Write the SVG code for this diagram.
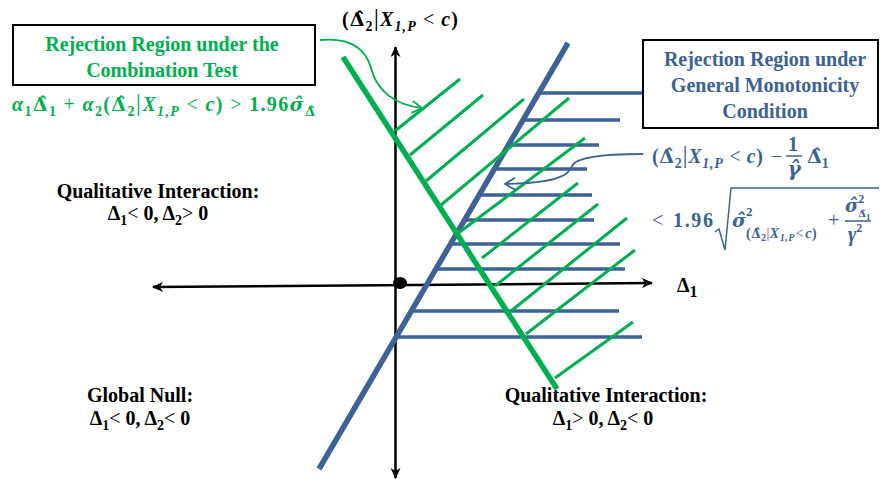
<svg xmlns="http://www.w3.org/2000/svg" width="880" height="479" viewBox="0 0 880 479">
<style>
.t{font-family:"Liberation Serif","Times New Roman",serif;font-weight:bold;font-size:20px}
.d{font-family:"DejaVu Serif",serif}
.k{fill:#000}
.g{fill:#00b050}
.b{fill:#3c6296}
.i{font-style:italic}
.n{font-weight:normal}
.ax{stroke:#000;stroke-width:2.5;fill:none}
.gth{stroke:#00b050;stroke-width:5.5}
.bth{stroke:#3c6296;stroke-width:5.5}
.gh{stroke:#00b050;stroke-width:3}
.bh{stroke:#3c6296;stroke-width:3.5}
.box{fill:#fff;stroke:#000;stroke-width:2}
.ml{stroke:#3c6296;stroke-width:1.5;fill:none}
</style>
<defs>
<marker id="axArrow" markerWidth="12" markerHeight="10" refX="10" refY="5" orient="auto-start-reverse" markerUnits="userSpaceOnUse">
<path d="M0,0 L11,5 L0,10 L3,5 z" fill="#000"/>
</marker>
<marker id="gArrow" markerWidth="14" markerHeight="14" refX="11" refY="7" orient="auto" markerUnits="userSpaceOnUse">
<path d="M1,1 L11,7 L1,13" fill="none" stroke="#00b050" stroke-width="1.8"/>
</marker>
<marker id="bArrow" markerWidth="14" markerHeight="14" refX="11" refY="7" orient="auto" markerUnits="userSpaceOnUse">
<path d="M1,1 L11,7 L1,13" fill="none" stroke="#3c6296" stroke-width="1.8"/>
</marker>
</defs>
<rect width="880" height="479" fill="#fff"/>

<g id="axes">
<line class="ax" x1="153" y1="287" x2="652" y2="283" marker-start="url(#axArrow)" marker-end="url(#axArrow)"/>
<line class="ax" x1="395.5" y1="478" x2="395.5" y2="47" marker-start="url(#axArrow)" marker-end="url(#axArrow)"/>
<ellipse cx="400" cy="283" rx="7" ry="6" fill="#000"/>
</g>

<g id="monotonicity-region">
<line class="bh" x1="539" y1="93" x2="643" y2="93"/>
<line class="bh" x1="523" y1="120" x2="620" y2="120"/>
<line class="bh" x1="508" y1="145" x2="599" y2="145"/>
<line class="bh" x1="494" y1="169" x2="587" y2="169"/>
<line class="bh" x1="479" y1="195" x2="592" y2="195"/>
<line class="bh" x1="464" y1="220" x2="594" y2="220"/>
<line class="bh" x1="450" y1="244" x2="620" y2="244"/>
<line class="bh" x1="436" y1="269" x2="625" y2="269"/>
<line class="bh" x1="411" y1="311" x2="619" y2="311"/>
<line class="bh" x1="396" y1="337" x2="642" y2="337"/>
<line class="bth" x1="319" y1="469" x2="568" y2="43"/>
</g>

<g id="combination-region">
<line class="gh" x1="395" y1="131" x2="460" y2="79"/>
<line class="gh" x1="410" y1="155" x2="483" y2="95"/>
<line class="gh" x1="426" y1="181" x2="524" y2="99"/>
<line class="gh" x1="441" y1="205" x2="569" y2="98"/>
<line class="gh" x1="457" y1="234" x2="585" y2="138"/>
<line class="gh" x1="482" y1="258" x2="578" y2="183"/>
<line class="gh" x1="495" y1="286" x2="598" y2="204"/>
<line class="gh" x1="511" y1="311" x2="627" y2="218"/>
<line class="gh" x1="526" y1="334" x2="635" y2="250"/>
<line class="gh" x1="555" y1="378" x2="633" y2="322"/>
<line class="gth" x1="343" y1="57" x2="557" y2="389"/>
</g>

<g id="connectors">
<path d="M320,40 C352,37 366,50 371,68 C377,92 396,105 422,108" fill="none" stroke="#00b050" stroke-width="1.8" marker-end="url(#gArrow)"/>
<path d="M643,154 C605,154 576,157 572,166 C569,176 555,183 505,184" fill="none" stroke="#3c6296" stroke-width="1.8" marker-end="url(#bArrow)"/>
</g>

<g id="combination-box">
<rect class="box" x="13" y="25" width="302" height="60"/>
<text class="t g" x="162" y="51" text-anchor="middle">Rejection Region under the</text>
<text class="t g" x="162" y="77" text-anchor="middle">Combination Test</text>
</g>

<g id="combination-formula">
<text class="t g" x="12" y="111" font-size="21" textLength="303" lengthAdjust="spacing"><tspan class="i">α</tspan><tspan dy="5" font-size="14">1</tspan><tspan dy="-5" class="d" font-size="19">Δ̂</tspan><tspan dy="5" font-size="14">1</tspan><tspan dy="-5" class="n"> + </tspan><tspan class="i">α</tspan><tspan dy="5" font-size="14">2</tspan><tspan dy="-5">(</tspan><tspan class="d" font-size="19">Δ̂</tspan><tspan dy="5" font-size="14">2</tspan><tspan dy="-5" font-size="26" class="n">|</tspan><tspan class="i">X</tspan><tspan dy="5" font-size="14" class="i">1,P</tspan><tspan dy="-5" class="n"> &lt; </tspan><tspan class="i">c</tspan><tspan>)</tspan><tspan class="n"> &gt; </tspan><tspan>1.96</tspan><tspan class="i d" font-size="19">σ̂</tspan><tspan dy="5" font-size="13" class="d">Δ̂</tspan></text>
</g>

<g id="monotonicity-box">
<rect class="box" x="643" y="40" width="235" height="88"/>
<text class="t b" x="765" y="66" text-anchor="middle">Rejection Region under</text>
<text class="t b" x="765" y="92" text-anchor="middle">General Monotonicity</text>
<text class="t b" x="765" y="118" text-anchor="middle">Condition</text>
</g>

<g id="monotonicity-formula">
<text class="t b" x="652" y="163" font-size="21" textLength="111" lengthAdjust="spacing"><tspan>(</tspan><tspan class="d" font-size="19">Δ̂</tspan><tspan dy="5" font-size="14">2</tspan><tspan dy="-5" font-size="26" class="n">|</tspan><tspan class="i">X</tspan><tspan dy="5" font-size="14" class="i">1,P</tspan><tspan dy="-5" class="n"> &lt; </tspan><tspan class="i">c</tspan><tspan>)</tspan></text>
<text class="t b n" x="771" y="163" font-size="21">−</text>
<text class="t b" x="793" y="151" text-anchor="middle" font-size="16">1</text>
<line class="ml" x1="786" y1="156" x2="802" y2="156"/>
<text class="t b i d" x="794" y="176" text-anchor="middle" font-size="16">γ̂</text>
<text class="t b" x="807" y="163" font-size="21"><tspan class="d" font-size="19">Δ̂</tspan><tspan dy="5" font-size="14">1</tspan></text>
<text class="t b n" x="652" y="227" font-size="21">&lt;</text>
<text class="t b" x="673" y="227" font-size="21" textLength="40" lengthAdjust="spacing">1.96</text>
<polyline class="ml" points="715,232 719,229 725,250 731,188 879,188"/>
<text class="t b" x="732" y="227" font-size="21"><tspan class="i d" font-size="19">σ̂</tspan><tspan dy="-11" font-size="13">2</tspan><tspan dx="-6.5" dy="22" font-size="14" letter-spacing="0.5"><tspan>(</tspan><tspan class="d" font-size="12">Δ̂</tspan><tspan dy="3" font-size="10">2</tspan><tspan dy="-3" class="n">|</tspan><tspan class="i">X</tspan><tspan dy="3" font-size="10" class="i">1,P</tspan><tspan dy="-3" dx="1" class="n">&lt;</tspan><tspan dx="1" class="i">c</tspan><tspan>)</tspan></tspan></text>
<text class="t b n" x="828" y="227" font-size="21">+</text>
<text class="t b" x="845" y="212" font-size="20"><tspan class="i d" font-size="18">σ̂</tspan><tspan dy="-9" font-size="12">2</tspan><tspan dx="-6" dy="14" font-size="10" class="d">Δ̂</tspan><tspan dy="3" font-size="9">1</tspan></text>
<line class="ml" x1="845" y1="221" x2="871" y2="221"/>
<text class="t b" x="848" y="241" font-size="20"><tspan class="i">γ</tspan><tspan dy="-9" font-size="12">2</tspan></text>
</g>

<g id="y-axis-label">
<text class="t k" x="342" y="26" font-size="21" textLength="116" lengthAdjust="spacing"><tspan>(</tspan><tspan class="d" font-size="19">Δ̂</tspan><tspan dy="5" font-size="14">2</tspan><tspan dy="-5" font-size="26" class="n">|</tspan><tspan class="i">X</tspan><tspan dy="5" font-size="14" class="i">1,P</tspan><tspan dy="-5" class="n"> &lt; </tspan><tspan class="i">c</tspan><tspan>)</tspan></text>
</g>

<g id="x-axis-label">
<text class="t k" x="677" y="292" font-size="24"><tspan>Δ</tspan><tspan dy="5" font-size="16">1</tspan></text>
</g>

<g id="quadrant-upper-left">
<text class="t k" x="158" y="198" text-anchor="middle">Qualitative Interaction:</text>
<text class="t k" x="158" y="220" text-anchor="middle"><tspan>Δ</tspan><tspan dy="5" font-size="14">1</tspan><tspan dy="-5" class="n">&lt; </tspan><tspan>0, Δ</tspan><tspan dy="5" font-size="14">2</tspan><tspan dy="-5" class="n">&gt; </tspan><tspan>0</tspan></text>
</g>

<g id="quadrant-lower-left">
<text class="t k" x="140" y="402" text-anchor="middle">Global Null:</text>
<text class="t k" x="140" y="425" text-anchor="middle"><tspan>Δ</tspan><tspan dy="5" font-size="14">1</tspan><tspan dy="-5" class="n">&lt; </tspan><tspan>0, Δ</tspan><tspan dy="5" font-size="14">2</tspan><tspan dy="-5" class="n">&lt; </tspan><tspan>0</tspan></text>
</g>

<g id="quadrant-lower-right">
<text class="t k" x="606" y="402" text-anchor="middle">Qualitative Interaction:</text>
<text class="t k" x="603" y="425" text-anchor="middle"><tspan>Δ</tspan><tspan dy="5" font-size="14">1</tspan><tspan dy="-5" class="n">&gt; </tspan><tspan>0, Δ</tspan><tspan dy="5" font-size="14">2</tspan><tspan dy="-5" class="n">&lt; </tspan><tspan>0</tspan></text>
</g>
</svg>
